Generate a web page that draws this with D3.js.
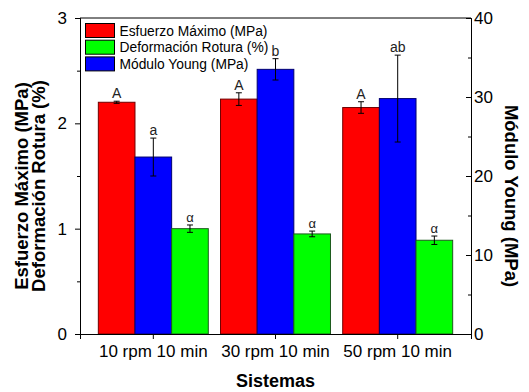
<!DOCTYPE html>
<html>
<head>
<meta charset="utf-8">
<script src="https://cdn.jsdelivr.net/npm/d3@7"></script>
<style>
  body { margin: 0; background: #fff; }
  text { font-family: Arial, "Liberation Sans", sans-serif; }
</style>
</head>
<body>
<div class="chart"></div>
<script>
// DATA
// ----------------------------
const sistemas = ['10 rpm 10 min', '30 rpm 10 min', '50 rpm 10 min']
const esfuerzo = [2.20, 2.23, 2.15]          // MPa, left axis
const esfuerzoErr = [0.01, 0.06, 0.055]
const esfuerzoLetras = ['A', 'A', 'A']
const young = [22.4, 33.5, 29.8]             // MPa, right axis
const youngErr = [2.4, 1.35, 5.5]
const youngLetras = ['a', 'b', 'ab']
const deformacion = [1.00, 0.95, 0.89]       // %, left axis
const deformacionErr = [0.035, 0.027, 0.04]
const deformacionLetras = ['α', 'α', 'α']
const leftTicks = [0, 1, 2, 3]
const rightTicks = [0, 10, 20, 30, 40]

// SETUP
// ----------------------------
const margin = { top: 18, bottom: 58, left: 80, right: 58 }
const fullWidth = 529
const fullHeight = 392
const width = fullWidth - margin.left - margin.right
const height = fullHeight - margin.top - margin.bottom

const svg = d3.select('.chart')
  .append('svg')
    .attr('width', fullWidth)
    .attr('height', fullHeight)
  .append('g')
    .attr('transform', `translate(${margin.left}, ${margin.top})`)

// scales
const xScale = d3.scaleBand()
  .domain(sistemas)
  .range([0, width])
  .paddingInner(0.1)
  .paddingOuter(0.15)
const yLeft = d3.scaleLinear().domain([0, 3]).range([height, 0])
const yRight = d3.scaleLinear().domain([0, 40]).range([height, 0])

// three bars per group: red, blue, green
const series = [
  { name: 'Esfuerzo Máximo (MPa)', vals: esfuerzo, err: esfuerzoErr, lab: esfuerzoLetras, y: yLeft, fill: '#ff0000', stroke: '#700000', fs: 14 },
  { name: 'Módulo Young (MPa)', vals: young, err: youngErr, lab: youngLetras, y: yRight, fill: '#0000ff', stroke: '#000070', fs: 14 },
  { name: 'Deformación Rotura (%)', vals: deformacion, err: deformacionErr, lab: deformacionLetras, y: yLeft, fill: '#00ff00', stroke: '#1d5a1d', fs: 13 }
]
const inner = d3.scaleBand()
  .domain(d3.range(series.length))
  .range([0, xScale.bandwidth()])

series.forEach((s, i) => {
  const g = svg.append('g').attr('class', 'serie')
  const xc = d => xScale(d) + inner(i) + inner.bandwidth() / 2

  g.selectAll('rect')
    .data(sistemas)
    .enter()
    .append('rect')
      .attr('x', d => xScale(d) + inner(i))
      .attr('width', inner.bandwidth())
      .attr('y', (d, j) => s.y(s.vals[j]))
      .attr('height', (d, j) => height - s.y(s.vals[j]))
      .style('fill', s.fill)
      .style('stroke', s.stroke)
      .style('stroke-width', 1)

  // error bars
  g.selectAll('.err')
    .data(sistemas)
    .enter()
    .append('path')
      .attr('class', 'err')
      .attr('d', (d, j) => {
        const x = xc(d)
        const y1 = s.y(s.vals[j] + s.err[j])
        const y0 = s.y(s.vals[j] - s.err[j])
        return `M${x},${y0}V${y1}M${x - 3},${y1}H${x + 3}M${x - 3},${y0}H${x + 3}`
      })
      .style('stroke', '#000')
      .style('fill', 'none')

  // significance letters
  g.selectAll('.letra')
    .data(sistemas)
    .enter()
    .append('text')
      .attr('x', xc)
      .attr('y', (d, j) => s.y(s.vals[j] + s.err[j]) - 3)
      .style('text-anchor', 'middle')
      .style('font-size', s.fs + 'px')
      .style('fill', '#222')
      .text((d, j) => s.lab[j])
})

// AXES
// ----------------------------
// frame top
svg.append('line')
  .attr('x1', 0).attr('x2', width)
  .attr('y1', 0).attr('y2', 0)
  .style('stroke', '#000')

const leftAxis = d3.axisLeft(yLeft).tickValues(leftTicks).tickSize(5).tickPadding(8)
  .tickFormat(d3.format('d'))
svg.append('g').call(leftAxis)
svg.append('g').call(d3.axisLeft(yLeft).tickValues([0.5, 1.5, 2.5]).tickSize(3).tickFormat(''))

const rightAxis = d3.axisRight(yRight).tickValues(rightTicks).tickSize(-5).tickPadding(3)
svg.append('g')
  .attr('transform', `translate(${width}, 0)`)
  .call(rightAxis)
svg.append('g')
  .attr('transform', `translate(${width}, 0)`)
  .call(d3.axisRight(yRight).tickValues([5, 15, 25, 35]).tickSize(-3).tickFormat(''))

const xAxis = d3.axisBottom(xScale).tickSize(5).tickPadding(6)
svg.append('g')
  .attr('transform', `translate(0, ${height})`)
  .call(xAxis)

svg.selectAll('.domain').style('stroke', '#000')
svg.selectAll('.tick line').style('stroke', '#000')
svg.selectAll('.tick text').style('font-size', '17px').style('fill', '#000')
  .style('font-family', 'Arial, "Liberation Sans", sans-serif')

// axis titles
svg.append('text')
  .attr('transform', `translate(${-52}, ${height / 2 + 10}) rotate(-90)`)
  .style('text-anchor', 'middle')
  .style('font-weight', 'bold')
  .style('font-size', '18.5px')
  .text('Esfuerzo Máximo (MPa)')
svg.append('text')
  .attr('transform', `translate(${-35}, ${height / 2 + 10}) rotate(-90)`)
  .style('text-anchor', 'middle')
  .style('font-weight', 'bold')
  .style('font-size', '18.5px')
  .text('Deformación Rotura (%)')
svg.append('text')
  .attr('transform', `translate(${width + 34}, ${height / 2 + 20}) rotate(90)`)
  .style('text-anchor', 'middle')
  .style('font-weight', 'bold')
  .style('font-size', '18.5px')
  .text('Módulo Young (MPa)')
svg.append('text')
  .attr('x', width / 2)
  .attr('y', height + 53)
  .style('text-anchor', 'middle')
  .style('font-weight', 'bold')
  .style('font-size', '18px')
  .text('Sistemas')

// LEGEND
// ----------------------------
const legendOrder = [series[0], series[2], series[1]]
const legend = svg.selectAll('.leg')
  .data(legendOrder)
  .enter()
  .append('g')
    .attr('class', 'leg')
    .attr('transform', (d, i) => `translate(5.5, ${5.5 + i * 16.7})`)
legend.append('rect')
  .attr('width', 29)
  .attr('height', 14)
  .style('fill', d => d.fill)
  .style('stroke', '#000')
legend.append('text')
  .attr('x', 34)
  .attr('y', 12)
  .style('font-size', '13.8px')
  .text(d => d.name)
</script>
</body>
</html>
